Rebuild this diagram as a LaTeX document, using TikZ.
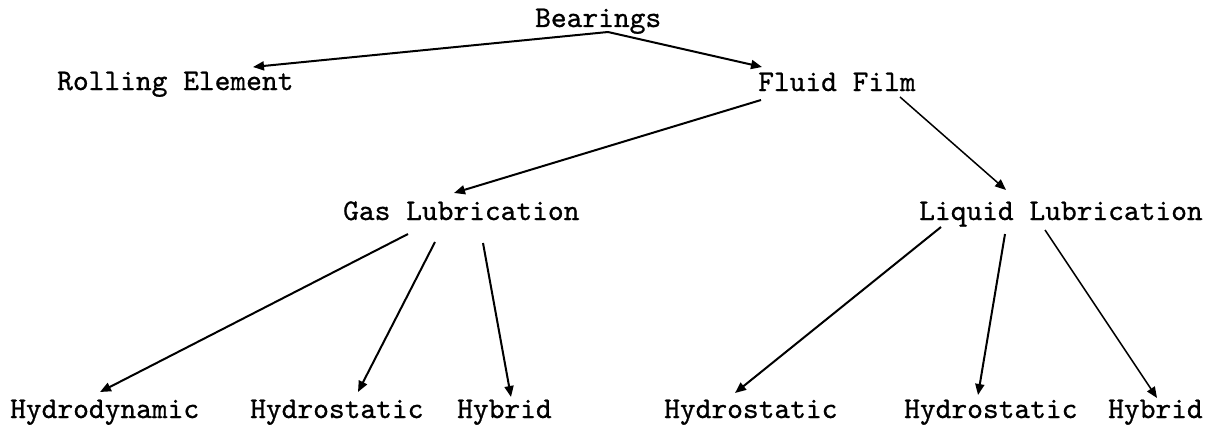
\documentclass[tikz,border=0pt]{standalone}
\usepackage{fontspec}
\newfontfamily\twfont{lmmono10-regular}[Extension=.otf,FakeBold=0.8]
\usetikzlibrary{arrows.meta,calc}
\begin{document}
\begin{tikzpicture}[x=1pt,y=-1pt,
  lbl/.style={anchor=base west,inner sep=0pt,font=\twfont\fontsize{30}{36}\selectfont},
  conn/.style={line width=2pt,-{Triangle[length=11pt,width=9pt]}},
  thin conn/.style={conn,line width=1.5pt}]
\useasboundingbox (0,0) rectangle (1214,428);
% nodes
\node[lbl] (bear) at (535,27) {Bearings};
\node[lbl] (roll) at (57,90) {Rolling Element};
\node[lbl] (fluid) at (758,91) {Fluid Film};
\node[lbl] (gas) at (343,220) {Gas Lubrication};
\node[lbl] (liq) at (919,220) {Liquid Lubrication};
\node[lbl] (gdyn) at (10,418) {Hydrodynamic};
\node[lbl] (gsta) at (250,418) {Hydrostatic};
\node[lbl] (ghyb) at (457,418) {Hybrid};
\node[lbl] (lsta) at (664,418) {Hydrostatic};
\node[lbl] (lsta2) at (904,418) {Hydrostatic};
\node[lbl] (lhyb) at (1108,418) {Hybrid};
% connectors
\draw[conn] ($(bear.base west)+(73,5)$) -- ($(roll.base west)+(196,-23)$);
\draw[conn] ($(bear.base west)+(73,5)$) -- ($(fluid.base west)+(4,-24)$);
\draw[conn] ($(fluid.base west)+(3,9)$) -- ($(gas.base west)+(111,-27)$);
\draw[thin conn] ($(fluid.base west)+(142,6)$) -- ($(liq.base west)+(87,-30)$);
\draw[conn] ($(gas.base west)+(65,14)$) -- ($(gdyn.base west)+(90,-26)$);
\draw[conn] ($(gas.base west)+(92,22)$) -- ($(gsta.base west)+(108,-26)$);
\draw[conn] ($(gas.base west)+(140,23)$) -- ($(ghyb.base west)+(54,-21)$);
\draw[conn] ($(liq.base west)+(22,7)$) -- ($(lsta.base west)+(71,-25)$);
\draw[conn] ($(liq.base west)+(86,14)$) -- ($(lsta2.base west)+(74,-23)$);
\draw[thin conn] ($(liq.base west)+(126,10)$) -- ($(lhyb.base west)+(49,-20)$);
\end{tikzpicture}
\end{document}
